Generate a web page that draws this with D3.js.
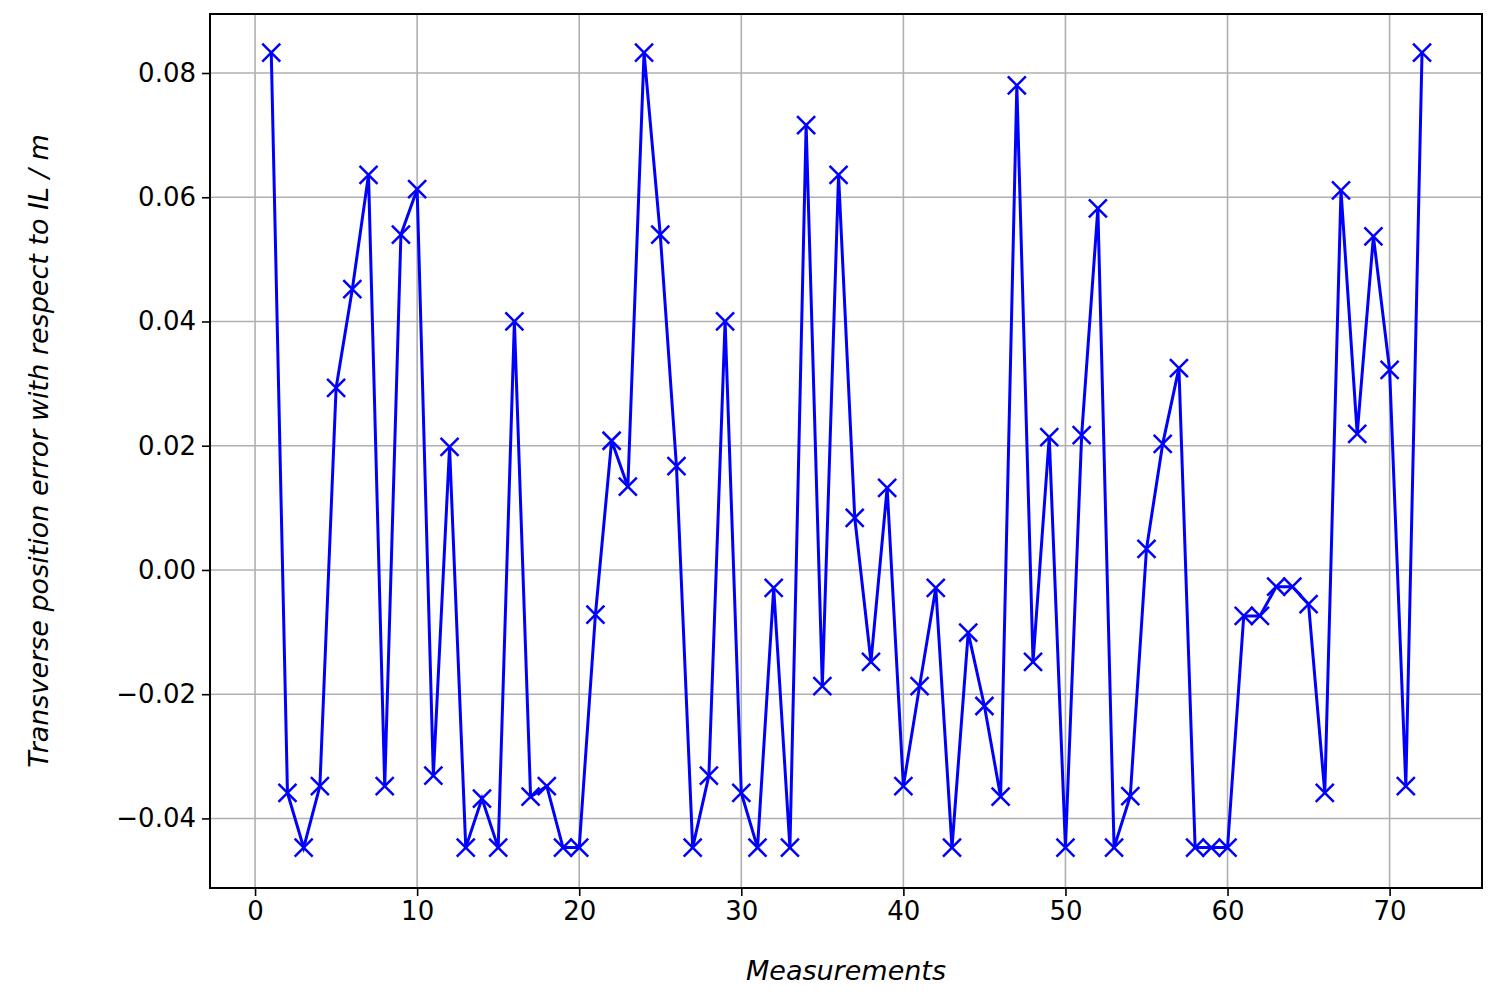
<!DOCTYPE html>
<html><head><meta charset="utf-8">
<script src="https://cdn.jsdelivr.net/npm/d3@7"></script>
<style>body{margin:0;background:#fff}</style></head>
<body><svg id="c" width="1500" height="1001"></svg>
<script>
const measurements = d3.range(1, 73);
const errors = [0.0833,-0.0359,-0.0447,-0.0348,0.0293,0.0452,0.0636,-0.0348,0.054,0.0613,
-0.0331,0.0198,-0.0447,-0.0368,-0.0447,0.040,-0.0365,-0.0348,-0.0447,-0.0447,
-0.0072,0.0208,0.0134,0.0833,0.054,0.0167,-0.0447,-0.0331,0.040,-0.0359,
-0.0447,-0.0029,-0.0447,0.0716,-0.0187,0.0636,0.0084,-0.0148,0.0132,-0.0348,
-0.0187,-0.0029,-0.0447,-0.0101,-0.0219,-0.0365,0.078,-0.0148,0.0214,-0.0447,
0.0217,0.0582,-0.0447,-0.0364,0.0034,0.0203,0.0325,-0.0447,-0.0447,-0.0447,
-0.0074,-0.0074,-0.0027,-0.0027,-0.0055,-0.0359,0.0611,0.0219,0.0537,0.0322,
-0.0348,0.0833];
const xTicks = [0,10,20,30,40,50,60,70];
const yTicks = [-0.04,-0.02,0,0.02,0.04,0.06,0.08];

const L=210,R=1482,T=14,B=888;
const svg=d3.select("#c");
const x=d3.scaleLinear().domain([-2.78,75.7]).range([L,R]);
const y=d3.scaleLinear().domain([-0.0512,0.0895]).range([B,T]);
const g=svg.append("g");
g.selectAll(".gx").data(xTicks).join("line").attr("x1",d=>x(d)).attr("x2",d=>x(d)).attr("y1",T).attr("y2",B).attr("stroke","#b0b0b0").attr("stroke-width",1.6);
g.selectAll(".gy").data(yTicks).join("line").attr("y1",d=>y(d)).attr("y2",d=>y(d)).attr("x1",L).attr("x2",R).attr("stroke","#b0b0b0").attr("stroke-width",1.6);
const font="DejaVu Sans";
const xa=svg.append("g").attr("transform",`translate(0,${B})`).call(d3.axisBottom(x).tickValues(xTicks).tickSize(8).tickPadding(6).tickFormat(d3.format("d")));
const ya=svg.append("g").attr("transform",`translate(${L},0)`).call(d3.axisLeft(y).tickValues(yTicks).tickSize(8).tickPadding(6).tickFormat(d=>d3.format(".2f")(d).replace("-","−")));
[xa,ya].forEach(a=>{a.select(".domain").remove();a.selectAll("text").attr("font-family",font).attr("font-size",26).attr("fill","#000");a.selectAll("line").attr("stroke","#000").attr("stroke-width",1.6);});
svg.append("rect").attr("x",L).attr("y",T).attr("width",R-L).attr("height",B-T).attr("fill","none").attr("stroke","#000").attr("stroke-width",2);
const pts=measurements.map((m,i)=>[m,errors[i]]);
svg.append("path").datum(pts).attr("d",d3.line().x(d=>x(d[0])).y(d=>y(d[1]))).attr("fill","none").attr("stroke","#0000ff").attr("stroke-width",3);
const s=9;
svg.selectAll(".m").data(pts).join("path").attr("d",d=>{const cx=x(d[0]),cy=y(d[1]);return `M${cx-s},${cy-s}L${cx+s},${cy+s}M${cx-s},${cy+s}L${cx+s},${cy-s}`;}).attr("stroke","#0000ff").attr("stroke-width",2.5);
svg.append("text").attr("x",(L+R)/2).attr("y",980).attr("text-anchor","middle").attr("font-family",font).attr("font-style","italic").attr("font-size",27).text("Measurements");
svg.append("text").attr("transform",`translate(48,${(T+B)/2}) rotate(-90)`).attr("text-anchor","middle").attr("font-family",font).attr("font-style","italic").attr("font-size",27).text("Transverse position error with respect to IL / m");
</script></body></html>
